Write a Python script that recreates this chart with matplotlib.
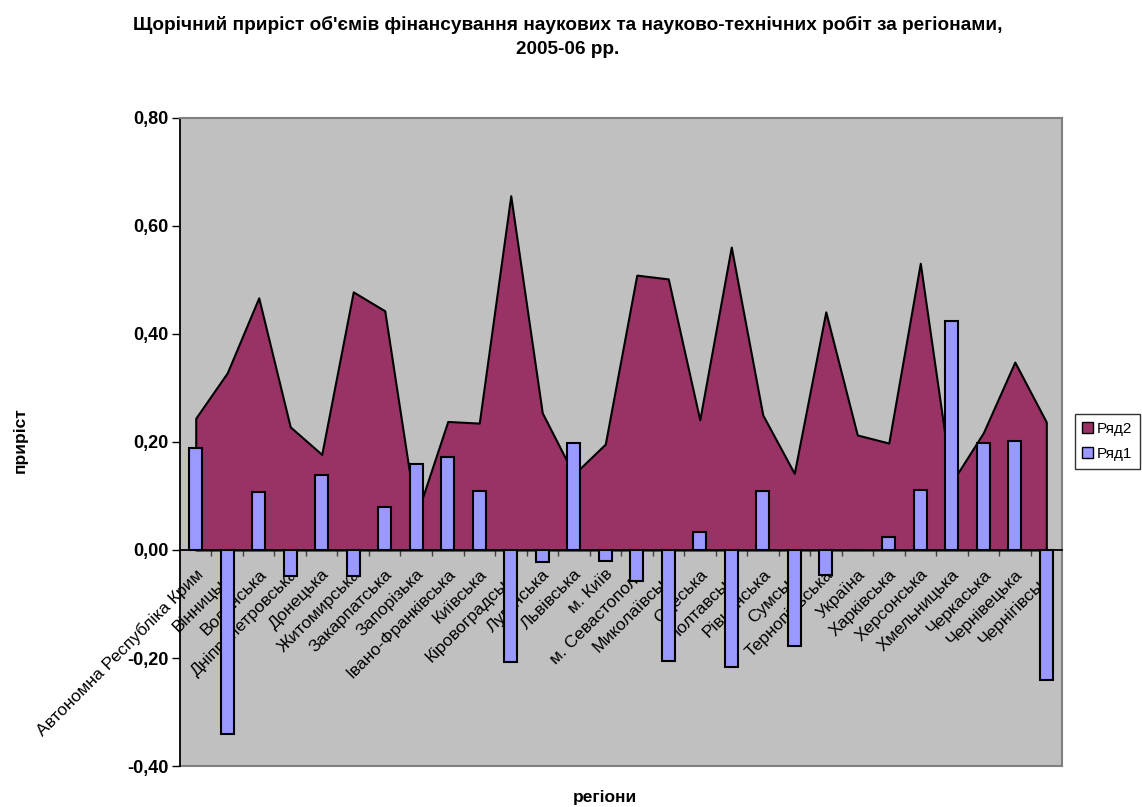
import matplotlib.pyplot as plt
import numpy as np
from matplotlib.patches import Patch
from matplotlib.ticker import FuncFormatter, FixedLocator

plt.rcParams['font.family'] = ['Liberation Sans', 'DejaVu Sans']

# regions (categories)
regions = ['Автономна Республіка Крим', 'Вінницька', 'Волинська', 'Дніпропетровська',
           'Донецька', 'Житомирська', 'Закарпатська', 'Запорізька', 'Івано-Франківська',
           'Київська', 'Кіровоградська', 'Луганська', 'Львівська', 'м. Київ',
           'м. Севастополь', 'Миколаївська', 'Одеська', 'Полтавська', 'Рівненська',
           'Сумська', 'Тернопільська', 'Україна', 'Харківська', 'Херсонська',
           'Хмельницька', 'Черкаська', 'Чернівецька', 'Чернігівська']

# Ряд2 - area series
ryad2 = [0.244, 0.328, 0.467, 0.228, 0.177, 0.478, 0.443, 0.062, 0.238,
         0.235, 0.656, 0.254, 0.140, 0.196, 0.509, 0.502, 0.241, 0.561,
         0.250, 0.142, 0.441, 0.213, 0.198, 0.531, 0.125, 0.217, 0.348, 0.237]

# Ряд1 - column series
ryad1 = [0.189, -0.341, 0.108, -0.048, 0.139, -0.048, 0.080, 0.159, 0.172,
         0.110, -0.207, -0.023, 0.198, -0.020, -0.057, -0.205, 0.034, -0.216,
         0.110, -0.178, -0.046, 0.0, 0.024, 0.111, 0.424, 0.198, 0.202, -0.241]

title = "Щорічний приріст об'ємів фінансування наукових та науково-технічних робіт за регіонами,\n2005-06 рр."

area_color = '#993366'
bar_color = '#9999FF'
bg_color = '#C0C0C0'

fig = plt.figure(figsize=(11.42, 8.07), dpi=100)
ax = fig.add_axes([0.1576, 0.0508, 0.7724, 0.8030])
ax.set_facecolor(bg_color)

x = np.arange(len(regions))
ax.fill_between(x, ryad2, 0, facecolor=area_color, edgecolor='black', linewidth=1.5, zorder=2)
ax.bar(x, ryad1, width=0.42, color=bar_color, edgecolor='black', linewidth=1.5, zorder=3)

ax.set_xlim(-0.5, len(regions) - 0.5)
ax.set_ylim(-0.4, 0.8)

# plot area border
for side in ['top', 'right']:
    ax.spines[side].set_color('#808080')
    ax.spines[side].set_linewidth(1.5)
ax.spines['left'].set_color('black')
ax.spines['left'].set_linewidth(1.3)
ax.spines['bottom'].set_position(('data', 0))
ax.spines['bottom'].set_color('black')
ax.spines['bottom'].set_linewidth(1.3)
ax.spines['bottom'].set_zorder(4)
ax.axhline(-0.4, color='#808080', linewidth=1.5, zorder=1, clip_on=False)

# y axis
ax.set_yticks(np.arange(-0.4, 0.81, 0.2))
ax.yaxis.set_major_formatter(FuncFormatter(lambda v, p: f"{v:.2f}".replace('.', ',')))
ax.tick_params(axis='y', direction='out', length=6, width=1, pad=2, labelsize=13)
for t in ax.get_yticklabels():
    t.set_fontweight('bold')

# x axis: labels at centres, tick marks at boundaries
ax.set_xticks(x)
ax.set_xticklabels(regions, rotation=45, ha='right', rotation_mode='anchor', fontsize=12.5)
ax.xaxis.set_minor_locator(FixedLocator(np.arange(0.5, len(regions) - 0.5, 1)))
ax.tick_params(axis='x', which='major', length=0, pad=12)
ax.tick_params(axis='x', which='minor', direction='inout', length=8, width=1, color='#404040')

fig.text(0.497, 0.980, title, ha='center', va='top', fontsize=13.7, fontweight='bold',
         linespacing=1.5)
fig.text(0.018, 0.455, 'приріст', rotation=90, ha='center', va='center',
         fontsize=12.5, fontweight='bold')
fig.text(0.530, 0.012, 'регіони', ha='center', va='center', fontsize=12.5, fontweight='bold')

handles = [Patch(facecolor=area_color, edgecolor='black', label='Ряд2'),
           Patch(facecolor=bar_color, edgecolor='black', label='Ряд1')]
leg = fig.legend(handles=handles, loc='upper left', bbox_to_anchor=(0.941, 0.487),
                 fontsize=11, frameon=True, fancybox=False, handlelength=0.7,
                 handleheight=0.7, handletextpad=0.25, borderpad=0.5, labelspacing=0.75,
                 borderaxespad=0)
leg.get_frame().set_edgecolor('black')
leg.get_frame().set_linewidth(1)

fig.savefig('out.png', dpi=100, facecolor='white')
